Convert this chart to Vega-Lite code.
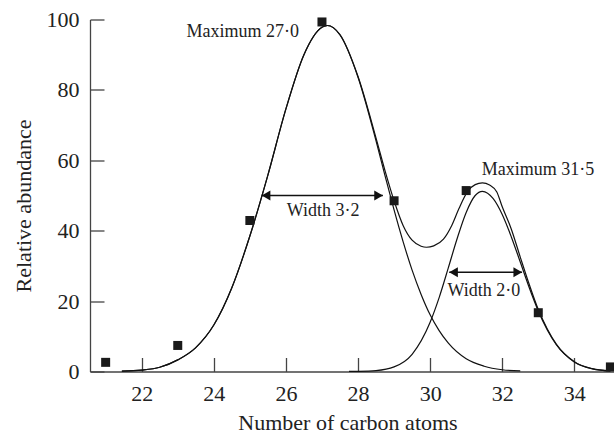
{
  "$schema": "https://vega.github.io/schema/vega-lite/v6.json",
  "width": 524,
  "height": 352,
  "autosize": {"type": "none"},
  "padding": {"left": 90, "top": 19.5, "right": 0, "bottom": 63.5},
  "background": "white",
  "config": {
    "view": {"stroke": null},
    "font": "Liberation Serif",
    "axis": {
      "grid": false,
      "domainColor": "#444",
      "domainWidth": 1.3,
      "tickColor": "#444",
      "tickWidth": 1.3,
      "tickSize": -14,
      "labelFont": "Liberation Serif",
      "labelFontSize": 22,
      "labelColor": "#222",
      "titleFont": "Liberation Serif",
      "titleFontSize": 22,
      "titleFontWeight": "normal",
      "titleColor": "#222"
    }
  },
  "datasets": {
    "curves": [
      {"series": "sum", "x": 21.45, "y": 0.1},
      {"series": "sum", "x": 22, "y": 0.4},
      {"series": "sum", "x": 22.5, "y": 1.2},
      {"series": "sum", "x": 23, "y": 3.3},
      {"series": "sum", "x": 23.5, "y": 6.8},
      {"series": "sum", "x": 24, "y": 13.2},
      {"series": "sum", "x": 24.5, "y": 23.8},
      {"series": "sum", "x": 25, "y": 38.5},
      {"series": "sum", "x": 25.5, "y": 55.8},
      {"series": "sum", "x": 26, "y": 74.6},
      {"series": "sum", "x": 26.5, "y": 90},
      {"series": "sum", "x": 27, "y": 97.8},
      {"series": "sum", "x": 27.15, "y": 98.3},
      {"series": "sum", "x": 27.5, "y": 95.7},
      {"series": "sum", "x": 28, "y": 83.8},
      {"series": "sum", "x": 28.5, "y": 66.3},
      {"series": "sum", "x": 28.75, "y": 57},
      {"series": "sum", "x": 29, "y": 48.5},
      {"series": "sum", "x": 29.25, "y": 41.5},
      {"series": "sum", "x": 29.5, "y": 37.3},
      {"series": "sum", "x": 29.75, "y": 35.6},
      {"series": "sum", "x": 29.9, "y": 35.3},
      {"series": "sum", "x": 30.1, "y": 35.7},
      {"series": "sum", "x": 30.37, "y": 37.6},
      {"series": "sum", "x": 30.6, "y": 41.5},
      {"series": "sum", "x": 30.8, "y": 46.3},
      {"series": "sum", "x": 31.05, "y": 51.3},
      {"series": "sum", "x": 31.25, "y": 53.1},
      {"series": "sum", "x": 31.45, "y": 53.6},
      {"series": "sum", "x": 31.65, "y": 53.0},
      {"series": "sum", "x": 31.85, "y": 51.0},
      {"series": "sum", "x": 32, "y": 46.8},
      {"series": "sum", "x": 32.25, "y": 40.5},
      {"series": "sum", "x": 32.5, "y": 32.5},
      {"series": "sum", "x": 32.75, "y": 24.7},
      {"series": "sum", "x": 33, "y": 17.6},
      {"series": "sum", "x": 33.25, "y": 12.1},
      {"series": "sum", "x": 33.5, "y": 7.8},
      {"series": "sum", "x": 34, "y": 2.8},
      {"series": "sum", "x": 34.5, "y": 0.8},
      {"series": "sum", "x": 35, "y": 0.15},
      {"series": "peak1", "x": 21.45, "y": 0.1},
      {"series": "peak1", "x": 22, "y": 0.4},
      {"series": "peak1", "x": 22.5, "y": 1.2},
      {"series": "peak1", "x": 23, "y": 3.3},
      {"series": "peak1", "x": 23.5, "y": 6.8},
      {"series": "peak1", "x": 24, "y": 13.2},
      {"series": "peak1", "x": 24.5, "y": 23.8},
      {"series": "peak1", "x": 25, "y": 38.5},
      {"series": "peak1", "x": 25.5, "y": 55.8},
      {"series": "peak1", "x": 26, "y": 74.6},
      {"series": "peak1", "x": 26.5, "y": 90},
      {"series": "peak1", "x": 27, "y": 97.8},
      {"series": "peak1", "x": 27.15, "y": 98.3},
      {"series": "peak1", "x": 27.5, "y": 95.6},
      {"series": "peak1", "x": 28, "y": 83.6},
      {"series": "peak1", "x": 28.5, "y": 65.5},
      {"series": "peak1", "x": 28.75, "y": 55.6},
      {"series": "peak1", "x": 29, "y": 45.9},
      {"series": "peak1", "x": 29.25, "y": 36.9},
      {"series": "peak1", "x": 29.5, "y": 28.8},
      {"series": "peak1", "x": 29.75, "y": 21.9},
      {"series": "peak1", "x": 30, "y": 16.1},
      {"series": "peak1", "x": 30.25, "y": 11.6},
      {"series": "peak1", "x": 30.5, "y": 8.1},
      {"series": "peak1", "x": 31, "y": 3.6},
      {"series": "peak1", "x": 31.5, "y": 1.5},
      {"series": "peak1", "x": 32, "y": 0.5},
      {"series": "peak1", "x": 32.5, "y": 0.15},
      {"series": "peak2", "x": 27.75, "y": 0.02},
      {"series": "peak2", "x": 28, "y": 0.05},
      {"series": "peak2", "x": 28.5, "y": 0.25},
      {"series": "peak2", "x": 29, "y": 1.3},
      {"series": "peak2", "x": 29.5, "y": 4.9},
      {"series": "peak2", "x": 30, "y": 14},
      {"series": "peak2", "x": 30.25, "y": 21},
      {"series": "peak2", "x": 30.5, "y": 29.3},
      {"series": "peak2", "x": 30.75, "y": 37.8},
      {"series": "peak2", "x": 31, "y": 45.2},
      {"series": "peak2", "x": 31.25, "y": 50},
      {"series": "peak2", "x": 31.45, "y": 51.2},
      {"series": "peak2", "x": 31.75, "y": 49.1},
      {"series": "peak2", "x": 32, "y": 44.6},
      {"series": "peak2", "x": 32.25, "y": 38.3},
      {"series": "peak2", "x": 32.5, "y": 31.1},
      {"series": "peak2", "x": 32.75, "y": 23.8},
      {"series": "peak2", "x": 33, "y": 17.2},
      {"series": "peak2", "x": 33.25, "y": 11.8},
      {"series": "peak2", "x": 33.5, "y": 7.6},
      {"series": "peak2", "x": 34, "y": 2.7},
      {"series": "peak2", "x": 34.5, "y": 0.75},
      {"series": "peak2", "x": 35, "y": 0.17}
    ],
    "points": [
      {"x": 21, "y": 2.6},
      {"x": 23, "y": 7.4},
      {"x": 25, "y": 42.9},
      {"x": 27, "y": 99.3},
      {"x": 29, "y": 48.5},
      {"x": 31, "y": 51.4},
      {"x": 33, "y": 16.7},
      {"x": 35, "y": 1.3}
    ],
    "arrows": [
      {"x1": 25.33, "x2": 28.69, "y": 50},
      {"x1": 30.53, "x2": 32.55, "y": 28.2}
    ],
    "labels": [
      {"x": 24.8, "y": 95.1, "text": "Maximum 27·0"},
      {"x": 32.99, "y": 55.7, "text": "Maximum 31·5"},
      {"x": 27.03, "y": 44.3, "text": "Width 3·2"},
      {"x": 31.49, "y": 21.4, "text": "Width 2·0"}
    ]
  },
  "layer": [
    {
      "data": {"name": "curves"},
      "mark": {"type": "line", "interpolate": "monotone", "color": "#111", "strokeWidth": 1.2},
      "encoding": {
        "x": {
          "field": "x", "type": "quantitative",
          "scale": {"domain": [20.566, 35.1], "nice": false, "zero": false},
          "axis": {"values": [22, 24, 26, 28, 30, 32, 34], "labelPadding": 26, "title": "Number of carbon atoms", "titleX": 257.5, "titleY": 58, "titleBaseline": "alphabetic"}
        },
        "y": {
          "field": "y", "type": "quantitative",
          "scale": {"domain": [0, 100], "nice": false},
          "axis": {"values": [0, 20, 40, 60, 80, 100], "labelPadding": 25, "title": "Relative abundance", "titleX": -60, "titleY": 186, "titleBaseline": "alphabetic"}
        },
        "detail": {"field": "series"}
      }
    },
    {
      "mark": {"type": "rule", "color": "#444", "strokeWidth": 1.3},
      "encoding": {"y": {"datum": 100}}
    },
    {
      "data": {"name": "points"},
      "mark": {"type": "square", "size": 81, "color": "#1a1a1a", "opacity": 1},
      "encoding": {
        "x": {"field": "x", "type": "quantitative"},
        "y": {"field": "y", "type": "quantitative"}
      }
    },
    {
      "data": {"name": "arrows"},
      "mark": {"type": "rule", "color": "#111", "strokeWidth": 1.3},
      "encoding": {
        "x": {"field": "x1", "type": "quantitative"},
        "x2": {"field": "x2"},
        "y": {"field": "y", "type": "quantitative"}
      }
    },
    {
      "data": {"name": "arrows"},
      "mark": {"type": "point", "shape": "triangle-left", "size": 100, "filled": true, "color": "#111", "opacity": 1, "xOffset": 4.3},
      "encoding": {
        "x": {"field": "x1", "type": "quantitative"},
        "y": {"field": "y", "type": "quantitative"}
      }
    },
    {
      "data": {"name": "arrows"},
      "mark": {"type": "point", "shape": "triangle-right", "size": 100, "filled": true, "color": "#111", "opacity": 1, "xOffset": -4.3},
      "encoding": {
        "x": {"field": "x2", "type": "quantitative"},
        "y": {"field": "y", "type": "quantitative"}
      }
    },
    {
      "data": {"name": "labels"},
      "mark": {"type": "text", "font": "Liberation Serif", "fontSize": 18, "align": "center", "baseline": "alphabetic", "color": "#222"},
      "encoding": {
        "x": {"field": "x", "type": "quantitative"},
        "y": {"field": "y", "type": "quantitative"},
        "text": {"field": "text"}
      }
    }
  ]
}
